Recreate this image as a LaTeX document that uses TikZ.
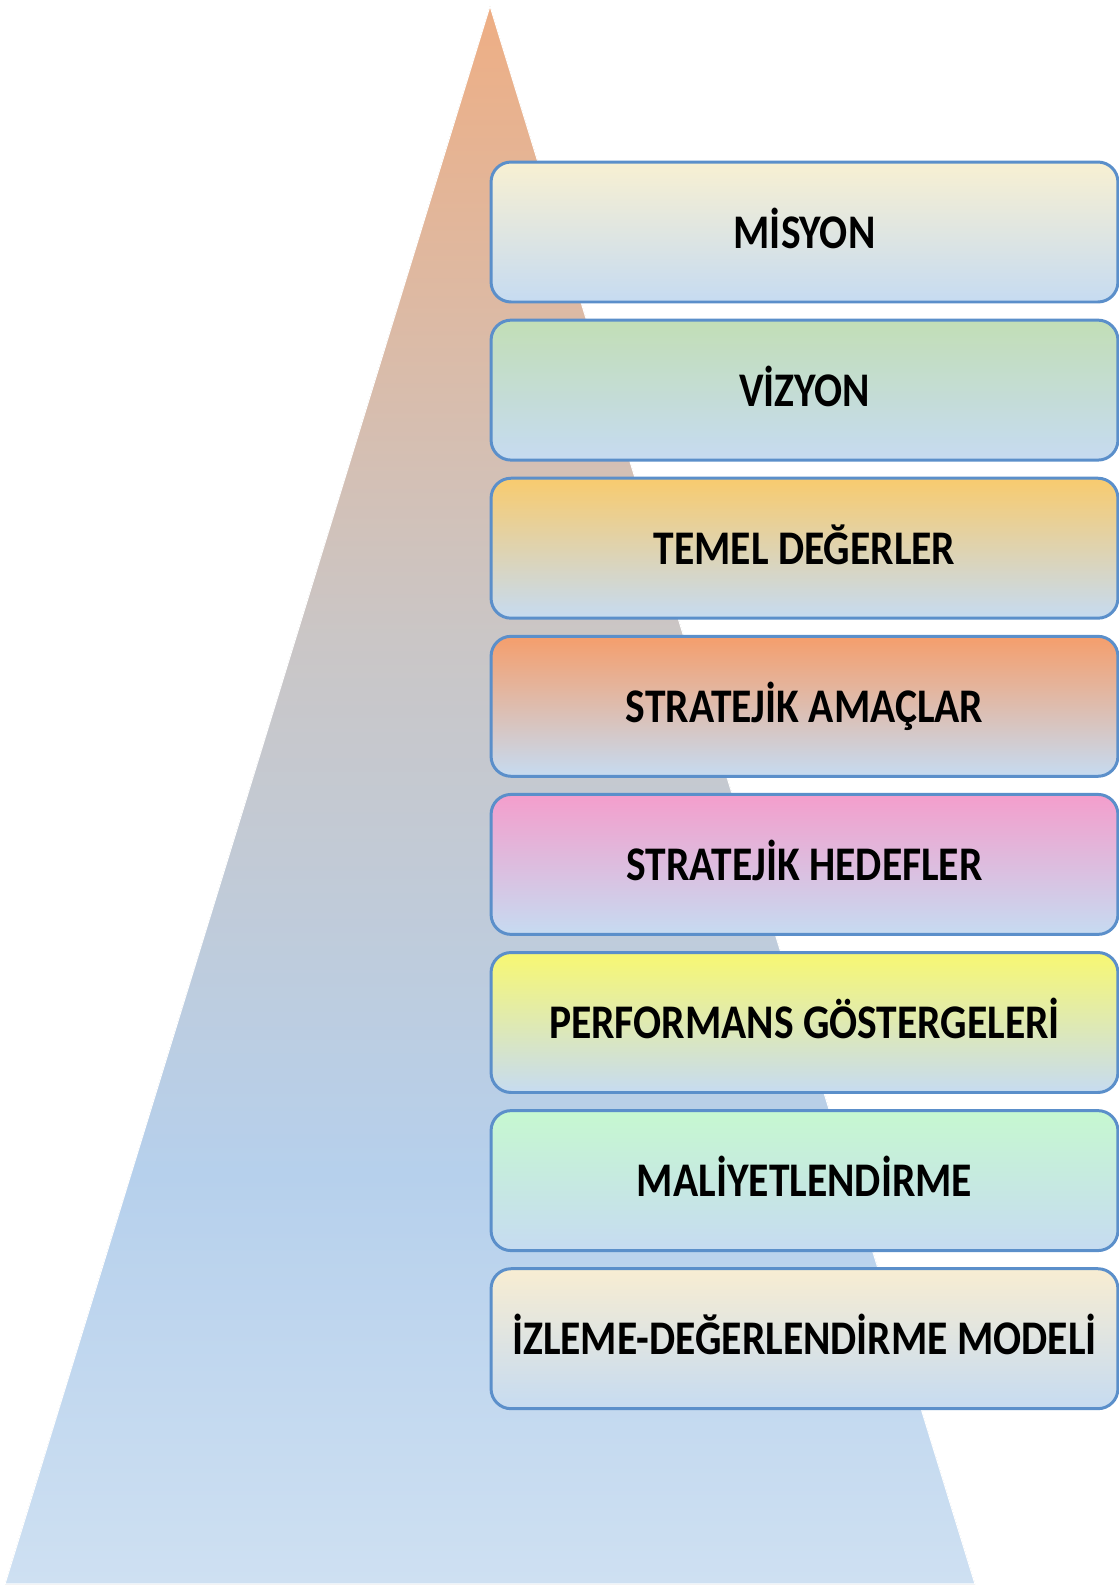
\documentclass[tikz,border=0pt]{standalone}
\usepackage{fontspec}
\setmainfont{Carlito}[FakeStretch=0.86]
\usepackage{tikz}

\definecolor{pyrtop}{HTML}{EEAE84}
\definecolor{pyrmid}{HTML}{CAC6C6}
\definecolor{pyrblue}{HTML}{B6D0EC}
\definecolor{pyrbot}{HTML}{CEE0F2}
\definecolor{boxline}{HTML}{5B8FCA}
\definecolor{boxblue}{HTML}{B4D0EC}
\definecolor{boxbot}{HTML}{C6DBF1}

\definecolor{cMisyon}{HTML}{F8F0D2}
\definecolor{cVizyon}{HTML}{C2DEB6}
\definecolor{cDeger}{HTML}{F8CB6E}
\definecolor{cAmac}{HTML}{F59E6C}
\definecolor{cHedef}{HTML}{F49ECC}
\definecolor{cGosterge}{HTML}{F8F872}
\definecolor{cMaliyet}{HTML}{C6F8D0}
\definecolor{cIzleme}{HTML}{F8EDD2}

\pgfdeclareverticalshading{pyramid}{100bp}{color(0bp)=(pyrbot); color(25bp)=(pyrbot); color(38bp)=(pyrblue); color(55bp)=(pyrmid); color(75bp)=(pyrtop); color(100bp)=(pyrtop)}

\begin{document}
\begin{tikzpicture}[x = 0.02cm, y = -0.02cm,
		box/.style = {draw = boxline, line width = 1.7pt, rounded corners = 0.4cm,
			minimum width = 12.54cm, minimum height = 2.8cm,
			text height = 0.64cm, text depth = 0pt,
			middle color = boxblue, bottom color = boxbot,
			font = \fontsize{27.5}{30}\selectfont\bfseries}]
			\def\W{1119};
			\def\H{1587};
			\def\xC{804.5};
			\def\yTop{232};
			\def\dy{158.1};

			\useasboundingbox (0,0) rectangle (\W,\H);

			\begin{scope}
				\fill [shading = pyramid] (490,6) -- (5,1584) -- (975,1584) -- cycle;
				\draw [white, line width = 0.6pt] (490,6) -- (5,1584) -- (975,1584) -- cycle;
			\end{scope}

			\begin{scope}
				\foreach \name/\col/\txt [count = \i from 0] in {%
					misyon/cMisyon/MİSYON,
					vizyon/cVizyon/VİZYON,
					degerler/cDeger/TEMEL DEĞERLER,
					amaclar/cAmac/STRATEJİK AMAÇLAR,
					hedefler/cHedef/STRATEJİK HEDEFLER,
					gostergeler/cGosterge/PERFORMANS GÖSTERGELERİ,
					maliyet/cMaliyet/MALİYETLENDİRME,
					izleme/cIzleme/İZLEME-DEĞERLENDİRME MODELİ}
					\node [box, top color = \col] (\name) at (\xC,\yTop+\i*\dy) {\txt};
			\end{scope}
		\end{tikzpicture}
\end{document}
